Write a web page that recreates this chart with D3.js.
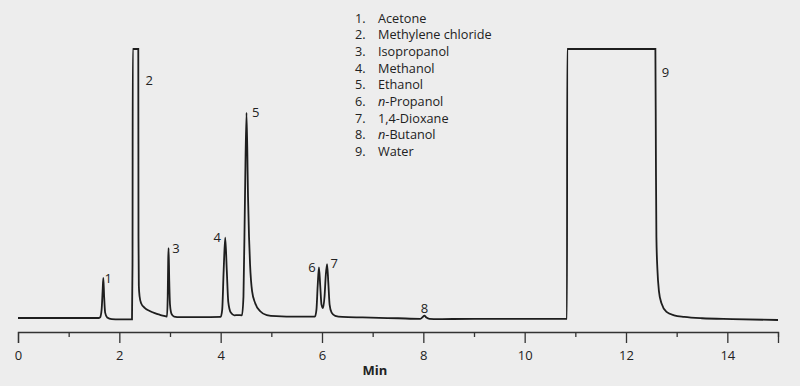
<!DOCTYPE html>
<html>
<head>
<meta charset="utf-8">
<script src="https://cdn.jsdelivr.net/npm/d3@7"></script>
<style>
  body { margin: 0; background: #ededed; }
  svg { display: block; font-family: "Open Sans", sans-serif; }
</style>
</head>
<body>
<svg id="chart" width="800" height="386"></svg>
<script>
// retention time (min) and detector signal (clipped at 100)
var traceTime = [
  0, 0.8, 1.6, 1.62, 1.65, 1.67, 1.684, 1.70, 1.72, 1.76, 1.85, 2.0, 2.25,
  2.26, 2.265, 2.374, 2.378, 2.385, 2.40, 2.43, 2.5, 2.6, 2.7, 2.8, 2.92,
  2.94, 2.955, 2.965, 2.972, 2.985, 3.0, 3.03, 3.08, 3.2, 3.6, 4.0,
  4.03, 4.06, 4.09, 4.12, 4.15, 4.2, 4.27, 4.34, 4.42,
  4.45, 4.48, 4.51, 4.54, 4.56, 4.58, 4.62, 4.68, 4.78, 4.91, 5.1, 5.5, 5.86,
  5.89, 5.915, 5.94, 5.965, 5.99, 6.02, 6.05, 6.075, 6.10, 6.125, 6.15, 6.19, 6.26, 6.4,
  6.8, 7.5, 7.94, 7.99, 8.02, 8.06, 8.12, 8.3, 9.0, 10.0, 10.835,
  10.84, 12.58, 12.59, 12.6, 12.62, 12.65, 12.7, 12.8, 12.95, 13.15, 13.5, 14.1, 15
];
var traceSignal = [
  0, 0, 0, 0.2, 3, 10, 14.9, 8, 2, 0.2, -0.4, -0.5, -0.5,
  20, 100, 100, 30, 12, 8, 5.5, 3.8, 2.6, 1.8, 1.2, 0.6,
  0.5, 8, 22, 26, 14, 5, 1.5, 0.5, 0.3, 0.3, 0.4,
  3, 18, 29.9, 18, 6, 2, 1, 1.1, 1,
  8, 45, 76.3, 45, 30, 20, 10, 5.6, 2.5, 1.1, 0.7, 0.5, 0.5,
  3, 12, 18.8, 12, 5, 3.7, 8, 16, 20, 13, 5, 2, 0.8, 0.4,
  0.2, -0.1, -0.3, 0.4, 0.9, 0.2, -0.3, -0.4, -0.3, -0.3, -0.3,
  100, 100, 60, 30, 18, 10, 5.5, 2.3, 1.0, 0.4, -0.1, -0.4, -0.75
];

// peak numbers and where their labels sit (min, signal)
var peakNumbers = ["1", "2", "3", "4", "5", "6", "7", "8", "9"];
var labelTime = [1.78, 2.59, 3.12, 3.93, 4.69, 5.80, 6.24, 8.02, 12.78];
var labelSignal = [14.9, 88.5, 26, 30.1, 76.3, 19.0, 20.4, 3.7, 91.4];

var compounds = ["Acetone", "Methylene chloride", "Isopropanol", "Methanol", "Ethanol",
                 "n-Propanol", "1,4-Dioxane", "n-Butanol", "Water"];

var xTicks = [0, 1, 2, 3, 4, 5, 6, 7, 8, 9, 10, 11, 12, 13, 14, 15];

var svg = d3.select("#chart");

var x = d3.scaleLinear().domain([0, 15]).range([18, 778]);
var y = d3.scaleLinear().domain([0, 100]).range([318, 49]);

var points = traceTime.map(function(t, i) { return [t, traceSignal[i]]; });

var line = d3.line()
    .x(function(d) { return x(d[0]); })
    .y(function(d) { return y(d[1]); })
    .curve(d3.curveMonotoneX);

svg.append("path")
    .datum(points)
    .attr("fill", "none")
    .attr("stroke", "#1e1e1e")
    .attr("stroke-width", 1.8)
    .attr("stroke-linejoin", "miter")
    .attr("d", line);

// x axis
var axis = svg.append("g")
    .attr("transform", "translate(0,332)")
    .call(d3.axisBottom(x)
      .tickValues(xTicks)
      .tickSizeOuter(0)
      .tickSize(11)
      .tickFormat(function(d) { return d % 2 === 0 ? d : ""; }));

axis.select(".domain").attr("stroke", "#333").attr("stroke-width", 1.3);
axis.selectAll(".tick line")
    .attr("stroke", "#333")
    .attr("stroke-width", 1.3)
    .attr("y2", function(d) { return d % 2 === 0 ? 11 : 5; });
axis.selectAll(".tick text")
    .attr("y", 28)
    .attr("dy", 0)
    .attr("fill", "#222")
    .style("font-family", "'Open Sans', sans-serif")
    .style("font-size", "13px");

svg.append("text")
    .attr("x", 375)
    .attr("y", 375)
    .attr("text-anchor", "middle")
    .attr("font-weight", "bold")
    .attr("font-size", 13)
    .attr("fill", "#222")
    .text("Min");

// peak labels
svg.selectAll(".peak")
    .data(peakNumbers)
    .enter().append("text")
    .attr("class", "peak")
    .attr("x", function(d, i) { return x(labelTime[i]); })
    .attr("y", function(d, i) { return y(labelSignal[i]) + 4.7; })
    .attr("text-anchor", "middle")
    .attr("font-size", 13)
    .attr("fill", "#222")
    .text(function(d) { return d; });

// compound list
var legend = svg.append("g");
var rows = legend.selectAll("g")
    .data(compounds)
    .enter().append("g")
    .attr("transform", function(d, i) { return "translate(0," + (22.7 + i * 16.67) + ")"; });

rows.append("text")
    .attr("x", 355)
    .attr("font-size", 12.7)
    .attr("fill", "#222")
    .text(function(d, i) { return (i + 1) + "."; });

rows.append("text")
    .attr("x", 378)
    .attr("font-size", 12.7)
    .attr("fill", "#222")
    .each(function(d) {
      var el = d3.select(this);
      if (d.indexOf("n-") === 0) {
        el.append("tspan").attr("font-style", "italic").text("n");
        el.append("tspan").text(d.slice(1));
      } else {
        el.text(d);
      }
    });
</script>
</body>
</html>
